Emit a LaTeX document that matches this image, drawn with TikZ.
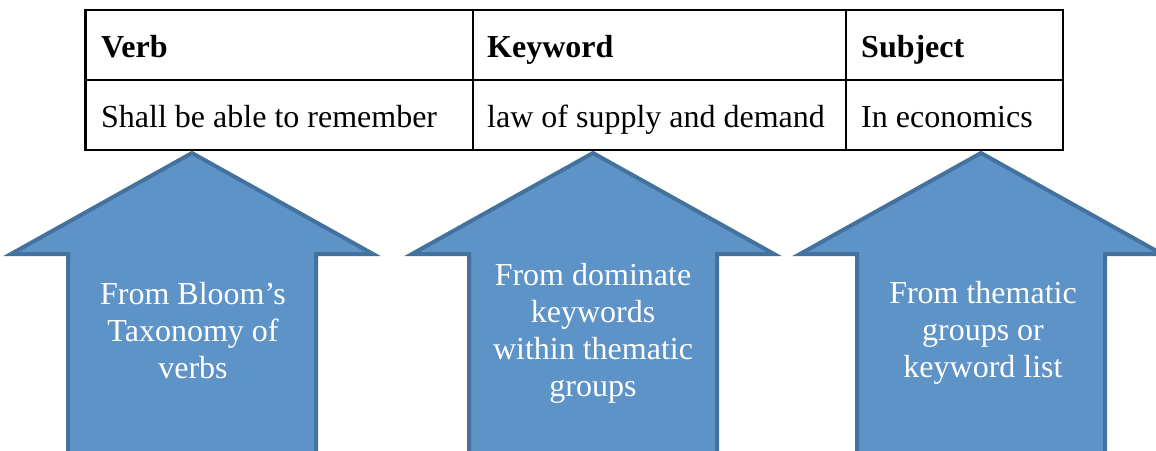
\documentclass[tikz,border=0pt]{standalone}
\usepackage{fontspec}
\setmainfont{Liberation Serif}
\usetikzlibrary{calc}

\definecolor{arrowfill}{RGB}{94,147,200}
\definecolor{arrowline}{RGB}{67,114,158}

\tikzset{
  cell/.style={anchor=base west, inner sep=0pt, font=\fontsize{32}{37}\selectfont},
  headcell/.style={cell, font=\fontsize{32}{37}\selectfont\bfseries},
  tableline/.style={line width=1.6pt},
  uparrow/.style={fill=arrowfill, draw=arrowline, line width=4pt, line join=miter},
  arrowtext/.style={align=center, text=white, inner sep=0pt, font=\fontsize{32}{37}\selectfont}
}

\begin{document}
\begin{tikzpicture}[x=1pt, y=-1pt]

  \useasboundingbox (0,0) rectangle (1156,450);
  \clip (0,0) rectangle (1156,450);

  % Arrows pointing up at the table
  \foreach \cx in {192, 593, 981} {
    \draw[uparrow] (\cx-124, 480) -- (\cx-124, 254) -- (\cx-181, 254) -- (\cx, 153)
      -- (\cx+181, 254) -- (\cx+124, 254) -- (\cx+124, 480) -- cycle;
  }

  \node[arrowtext] (bloom) at (193,331) {From Bloom’s\\Taxonomy of\\verbs};
  \node[arrowtext] (dominate) at (593,333) {From dominate\\keywords\\within thematic\\groups};
  \node[arrowtext] (thematic) at (983,333) {From thematic\\groups or\\keyword list};

  % Table grid
  \draw[tableline] (85,10) rectangle (1063,150);
  \draw[tableline] (85,80) -- (1063,80);
  \draw[tableline] (473,10) -- (473,150);
  \draw[tableline] (846,10) -- (846,150);
  \draw[line width=3pt] (85,10) -- (85,150);

  % Header row
  \node[headcell] (verb) at (101,57) {Verb};
  \node[headcell] (keyword) at (487,57) {Keyword};
  \node[headcell] (subject) at (861,57) {Subject};

  % Example row
  \node[cell] (verbval) at (101,127) {Shall be able to remember};
  \node[cell] (keywordval) at (487,127) {law of supply and demand};
  \node[cell] (subjectval) at (861,127) {In economics};

\end{tikzpicture}
\end{document}
